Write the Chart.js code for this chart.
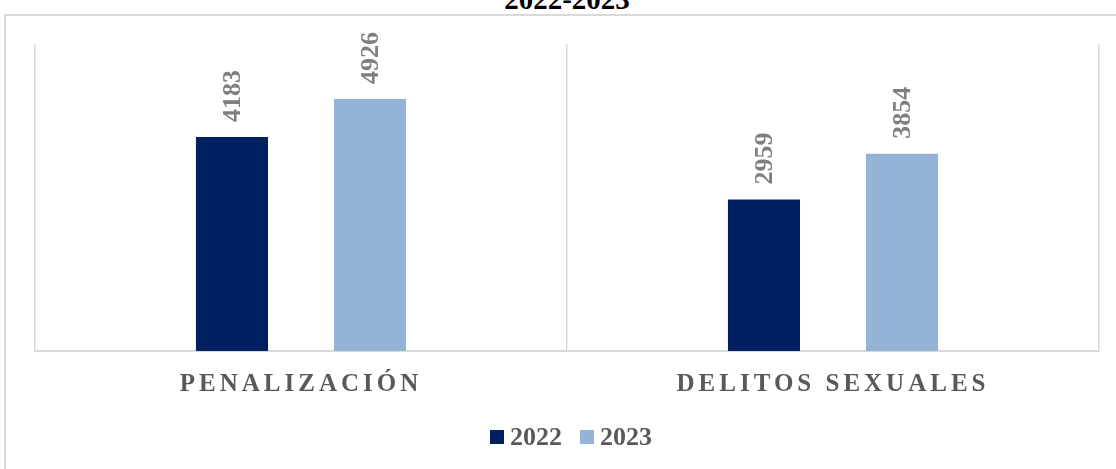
<!DOCTYPE html>
<html>
<head>
<meta charset="utf-8">
<script src="https://cdn.jsdelivr.net/npm/chart.js@4/dist/chart.umd.min.js"></script>
<style>
  html, body { margin: 0; padding: 0; background: #fff; overflow: hidden; }
  #wrap { position: relative; width: 1116px; height: 469px; }
  #frame {
    position: absolute; left: 4px; top: 14px; width: 1200px; height: 600px;
    border-left: 2px solid #d9d9d9; border-top: 2px solid #d9d9d9;
  }
  #title {
    position: absolute; left: 0; width: 1134px; top: -15px; text-align: center;
    font: bold 29px/29px "Liberation Serif", "Times New Roman", serif; color: #000;
  }
  #chart { position: absolute; left: 0; top: 0; }
  #legend {
    position: absolute; left: 0; top: 424px; width: 1142px; text-align: center;
    font: bold 26px/26px "Liberation Serif", "Times New Roman", serif; color: #595959;
  }
  #legend span.item { display: inline-block; margin: 0 9px; }
  #legend span.box { display: inline-block; width: 14px; height: 14px; margin-right: 6px; vertical-align: 1px; }
</style>
</head>
<body>
<div id="wrap">
  <div id="frame"></div>
  <div id="title">2022-2023</div>
  <canvas id="chart" width="1116" height="469"></canvas>
  <div id="legend"></div>
</div>
<script>
const categories = ["PENALIZACIÓN", "DELITOS SEXUALES"];
const seriesNames = ["2022", "2023"];
const values2022 = [4183, 2959];
const values2023 = [4926, 3854];
const colors = ["#002060", "#95B3D7"];

const serif = "'Liberation Serif', 'Times New Roman', serif";

// etiquetas de eje con espaciado entre letras
const spacedTicks = {
  id: "spacedTicks",
  afterLayout(chart) {
    const sc = chart.scales.x;
    if (sc._spaced) return;
    const orig = sc.drawLabels.bind(sc);
    sc.drawLabels = function (area) {
      const ctx = this.ctx;
      ctx.save();
      ctx.letterSpacing = "4px";
      orig(area);
      ctx.restore();
    };
    sc._spaced = true;
  }
};

// valores girados encima de cada barra
const barValues = {
  id: "barValues",
  afterDatasetsDraw(chart) {
    const ctx = chart.ctx;
    chart.data.datasets.forEach((ds, i) => {
      chart.getDatasetMeta(i).data.forEach((bar, j) => {
        ctx.save();
        ctx.translate(bar.x, bar.y - 15);
        ctx.rotate(-Math.PI / 2);
        ctx.font = "bold 26px " + serif;
        ctx.fillStyle = "#7f7f7f";
        ctx.textAlign = "left";
        ctx.textBaseline = "middle";
        ctx.fillText(String(ds.data[j]), 0, 1);
        ctx.restore();
      });
    });
  }
};

const ctx = document.getElementById("chart").getContext("2d");
new Chart(ctx, {
  type: "bar",
  data: {
    labels: categories,
    datasets: [
      { label: seriesNames[0], data: values2022, backgroundColor: colors[0] },
      { label: seriesNames[1], data: values2023, backgroundColor: colors[1] }
    ]
  },
  options: {
    responsive: false,
    animation: false,
    layout: { padding: { left: 35, right: 17, top: 44, bottom: 0 } },
    datasets: { bar: { categoryPercentage: 0.519, barPercentage: 0.522 } },
    plugins: { legend: { display: false }, tooltip: { enabled: false }, title: { display: false } },
    scales: {
      x: {
        grid: { color: "#d9d9d9", lineWidth: 1.5, drawTicks: false, offset: true },
        border: { color: "#d9d9d9", width: 2 },
        ticks: { color: "#595959", font: { family: serif, size: 25, weight: "bold" }, padding: 19, maxRotation: 0 },
        afterFit(scale) { scale.height = 118; }
      },
      y: { display: false, min: 0, max: 6000 }
    }
  },
  plugins: [spacedTicks, barValues]
});

const legend = document.getElementById("legend");
seriesNames.forEach((name, i) => {
  const item = document.createElement("span");
  item.className = "item";
  item.innerHTML = `<span class="box" style="background:${colors[i]}"></span>${name}`;
  legend.appendChild(item);
});
</script>
</body>
</html>
